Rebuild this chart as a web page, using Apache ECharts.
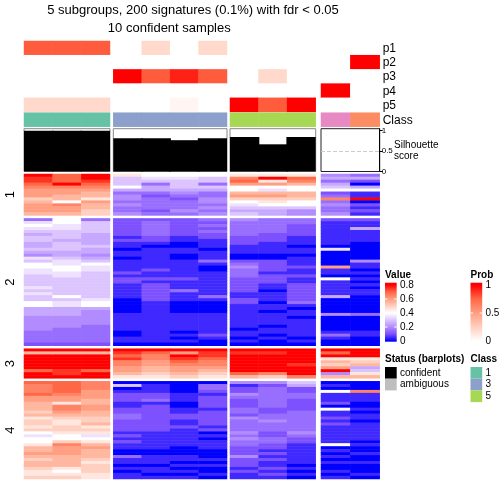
<!DOCTYPE html>
<html><head><meta charset="utf-8">
<script src="https://cdn.jsdelivr.net/npm/echarts@6/dist/echarts.min.js"></script>
<style>html,body{margin:0;padding:0;background:#fff}#c{width:504px;height:504px}</style>
</head><body><div id="c"></div>
<script>
// ---------------- data ----------------
const columnClass = [1,1,1, 3,3,3,3, 5,5,5, 4,2];
const groupSizes  = [3,4,3,2];
const probP1 = [0.78,0.78,0.78, 0,0.2,0,0.2, 0,0,0, 0,0];
const probP2 = [0,0,0, 0,0,0,0, 0,0,0, 0,1];
const probP3 = [0,0,0, 1,0.78,0.92,0.78, 0,0.2,0, 0,0];
const probP4 = [0,0,0, 0,0,0,0, 0,0,0, 1,0];
const probP5 = [0.2,0.2,0.2, 0,0,0.05,0, 1,0.78,1, 0,0];
const probNames = ['p1','p2','p3','p4','p5'];
const silhouette = [0.99,0.99,0.99, 0.81,0.81,0.76,0.81, 0.835,0.66,0.835, 0,0];
const rowSliceLabels = ['1','2','3','4'];
const valueTicks = [0.8,0.6,0.4,0.2,0];
const probTicks = [1,0.5,0];
const silTicks = [0,0.5,1];
const classLegend = [1,3,5];
const statusLegend = ['confident','ambiguous'];
// heatmap values: one string per column (12 columns), each char = value*20 ('0'..'G')
const slice1 = [
"GFFEDCCCABCCCB","EEEGDCCBB8DCCB","GGFEDCBB9CBBAA",
"96668534434334","87635532333323","87666543233343","86636533443434",
"9DEC88BCA87656","9G9C87BCA98655","9EDB88BBA88644",
"45356823D34334","35205811G02121"];
const slice2 = [
"3787656655654768877666676766885554444433332",
"8877666566655677887766666686775554444333332",
"3666655556554568776666666667885444443333332",
"2222221211011011112122111110000011111100110",
"2333332210111111121121222222111111111111110",
"2222221100110011111121113111000011111101010",
"3232322111011131001111111131000011111112100",
"4333332221110023433322222112211111111011010",
"3333322211110022221222110111011011110110100",
"3322221110110111211211222222310110111111010",
"2111111110700000C11081111150000040000013100",
"2115111100000041101010101100000030000011000"];
const slice3 = [
"GBGGGGGEGG","GBGGGGGFFG","GBGGGGGEGG",
"GFEFDDCCB9","GEDDCCBBA9","GCGFEDCCBA","GFFEDDCBA9",
"GFGGGGGGEB","GFGGGGGGDA","GGGGGFGGGD",
"GEG9BACG4B","GGG9AB569B"];
const slice4 = [
"EDDDECCBBBAB9AA9A87889BBCBABBA99A",
"EEEEDCC9DDCBA99AA988ADCCCBBBB989A",
"DDDCCCBBCCBBAAB9A9789BCBBBA9AAA99",
"060122211223322221212110031101011",
"011122312222222221111110011101101",
"000011100112211211111100011010101",
"033212222122222120101110001010010",
"412243222332433334343322242221211",
"423333333223343332233221212112121",
"652233222233333334322111111101010",
"010811120811212111111801010100101",
"000D11100101101111110100100100010"];

// ---------------- styles / layout ----------------
const FONT = '"Liberation Sans", Arial, Helvetica, sans-serif';
const heatColors = ['#0000ff','rgb(126,81,255)','rgb(178,139,255)','rgb(220,197,255)','#ffffff',
                    'rgb(255,207,191)','rgb(255,158,129)','rgb(255,104,70)','#ff0000'];
const probColors = ['#ffffff','rgb(255,207,191)','rgb(255,158,129)','rgb(255,104,70)','#ff0000'];
const classColors = {1:'#66C2A5',2:'#FC8D62',3:'#8DA0CB',4:'#E78AC3',5:'#A6D854'};
const groupLeft  = [24, 113.3, 230, 321];
const groupRight = [110, 227, 315.7, 379.7];
const blocks = [[41,71],[112.7,14],[128.7,42.8],[174,305]];

const CODE = '0123456789ABCDEFG';
const decode = s => s.split('').map(ch => CODE.indexOf(ch) / 20);
const slices = [slice1, slice2, slice3, slice4];
const sliceOffset = []; let acc = 0;
slices.forEach(s => { sliceOffset.push(acc); acc += s[0].length + 1; });
const totalRows = acc - 1;
const yCats = Array.from({length: totalRows}, (_, i) => String(i));
const probRows = [probP1, probP2, probP3, probP4, probP5];

const grids = [], xAxes = [], yAxes = [], series = [];
const heatIdx = [], probIdx = [], classIdx = [];
let colStart = 0;
groupSizes.forEach((n, g) => {
  const cols = Array.from({length: n}, (_, j) => colStart + j);
  const last = g === groupSizes.length - 1;
  const base = grids.length;
  const gw = groupRight[g] - groupLeft[g];
  blocks.forEach(([top, h], k) => {
    grids.push({left: groupLeft[g], top: top, width: gw, height: h,
      show: k === 2, borderColor: last ? '#222' : '#888', borderWidth: 1,
      backgroundColor: 'transparent', containLabel: false, outerBoundsMode: 'none'});
    xAxes.push({type: 'category', gridIndex: base + k, data: cols.map(String), show: false});
  });
  yAxes.push({type: 'category', gridIndex: base, data: probNames, inverse: true, show: false});
  yAxes.push({type: 'category', gridIndex: base + 1, data: ['Class'], show: false});
  yAxes.push({type: 'value', gridIndex: base + 2, min: 0, max: 1.039, show: last, position: 'right',
    splitLine: {show: false},
    axisLine: {show: true, lineStyle: {color: '#000', width: 1}},
    axisTick: {show: true, length: 3, customValues: silTicks, lineStyle: {color: '#000'}},
    axisLabel: {show: true, fontSize: 8, color: '#000', margin: 2, fontFamily: FONT,
      customValues: silTicks, formatter: v => (silTicks.indexOf(v) >= 0 ? String(v) : '')}});
  yAxes.push({type: 'category', gridIndex: base + 3, data: yCats, inverse: true, show: false});

  // prob annotation
  const pd = [];
  probRows.forEach((arr, pi) => cols.forEach((c, j) => pd.push([j, pi, arr[c]])));
  probIdx.push(series.length);
  series.push({type: 'heatmap', xAxisIndex: base, yAxisIndex: base, data: pd, progressive: 0,
    animation: false, emphasis: {disabled: true}, itemStyle: {borderWidth: 0}});
  // class annotation
  classIdx.push(series.length);
  series.push({type: 'heatmap', xAxisIndex: base + 1, yAxisIndex: base + 1,
    data: cols.map((c, j) => [j, 0, columnClass[c]]), progressive: 0, animation: false,
    emphasis: {disabled: true}});
  // silhouette bars (slightly wider than the band so neighbours overlap; clipped to the grid)
  const bar = {type: 'bar', xAxisIndex: base + 2, yAxisIndex: base + 2,
    data: cols.map(c => silhouette[c]), barWidth: gw / n + 1.5, barGap: '-100%', clip: true,
    itemStyle: {color: '#000'}, animation: false, silent: true};
  if (last) bar.markLine = {symbol: 'none', silent: true, label: {show: false},
    lineStyle: {type: 'dashed', color: '#cccccc', width: 1}, data: [{yAxis: 0.5}]};
  series.push(bar);
  // main heatmap
  const hd = [];
  slices.forEach((sl, s) => cols.forEach((c, j) => {
    decode(sl[c]).forEach((v, r) => hd.push([j, sliceOffset[s] + r, v]));
  }));
  heatIdx.push(series.length);
  series.push({type: 'heatmap', xAxisIndex: base + 3, yAxisIndex: base + 3, data: hd,
    progressive: 0, animation: false, emphasis: {disabled: true}});
  colStart += n;
});

// ---------------- graphics (titles, labels, legends) ----------------
const txt = (text, x, y, o = {}) => ({type: 'text', x, y, rotation: o.rot || 0, silent: true,
  style: {text, fill: '#000', font: (o.bold ? 'bold ' : '') + (o.size || 12) + 'px ' + FONT,
    align: o.align || 'left', verticalAlign: 'middle', textAlign: o.align || 'left', textVerticalAlign: 'middle'}});
const G = [];
G.push(txt('5 subgroups, 200 signatures (0.1%) with fdr < 0.05', 193, 10, {size: 13, align: 'center'}));
G.push(txt('10 confident samples', 169.3, 28.5, {size: 13, align: 'center'}));
[49, 62.7, 76.7, 91.5, 106].forEach((y, i) => G.push(txt(probNames[i], 382.7, y)));
G.push(txt('Class', 382.7, 120.3));
G.push(txt('Silhouette', 394, 145, {size: 10}));
G.push(txt('score', 394, 156, {size: 10}));
// slice titles (rotated)
const hTop = blocks[3][0], hH = blocks[3][1], rowH = hH / totalRows;
slices.forEach((sl, s) => {
  const yc = hTop + (sliceOffset[s] + sl[0].length / 2) * rowH;
  G.push(txt(rowSliceLabels[s], 10.5, yc, {size: 13, align: 'center', rot: Math.PI / 2}));
});
// Value legend
const barTop = 282.7, barH = 59;
G.push(txt('Value', 385, 275, {bold: true, size: 10}));
const vy = v => 341 - v * 70;
const vStops = [{offset: 0, color: heatColors[8]}];
for (let i = 8; i >= 0; i--) vStops.push({offset: (vy(i * 0.1) - barTop) / barH, color: heatColors[i]});
vStops.push({offset: 1, color: heatColors[0]});
G.push({type: 'rect', shape: {x: 385, y: barTop, width: 11.7, height: barH}, silent: true,
  style: {fill: {type: 'linear', x: 0, y: 0, x2: 0, y2: 1, colorStops: vStops}}});
valueTicks.forEach(v => {
  G.push(txt(String(v), 400, vy(v) + 0.3, {size: 10}));
  if (v > 0 && v < 0.8) {
    G.push({type: 'line', silent: true, shape: {x1: 385, y1: vy(v), x2: 387.5, y2: vy(v)}, style: {stroke: '#fff', lineWidth: 1}});
    G.push({type: 'line', silent: true, shape: {x1: 394.2, y1: vy(v), x2: 396.7, y2: vy(v)}, style: {stroke: '#fff', lineWidth: 1}});
  }
});
// Prob legend
G.push(txt('Prob', 470.5, 275, {bold: true, size: 10}));
const py = v => 341 - v * 56;
const pStops = [{offset: 0, color: probColors[4]}];
for (let i = 4; i >= 0; i--) pStops.push({offset: (py(i * 0.25) - barTop) / barH, color: probColors[i]});
pStops.push({offset: 1, color: probColors[0]});
G.push({type: 'rect', shape: {x: 470.5, y: barTop, width: 11.7, height: barH}, silent: true,
  style: {fill: {type: 'linear', x: 0, y: 0, x2: 0, y2: 1, colorStops: pStops}}});
probTicks.forEach(v => {
  G.push(txt(String(v), 485.5, py(v) + 0.3, {size: 10}));
  if (v > 0 && v < 1) {
    G.push({type: 'line', silent: true, shape: {x1: 470.5, y1: py(v), x2: 473, y2: py(v)}, style: {stroke: '#fff', lineWidth: 1}});
    G.push({type: 'line', silent: true, shape: {x1: 479.7, y1: py(v), x2: 482.2, y2: py(v)}, style: {stroke: '#fff', lineWidth: 1}});
  }
});
// Status legend
G.push(txt('Status (barplots)', 385, 359, {bold: true, size: 10}));
['#000000', '#bebebe'].forEach((c, i) => {
  G.push({type: 'rect', silent: true, shape: {x: 385, y: 367 + i * 11.7, width: 11.7, height: 11.7}, style: {fill: c}});
  G.push(txt(statusLegend[i], 400, 372.8 + i * 11.7, {size: 10}));
});
// Class legend
G.push(txt('Class', 470.5, 359, {bold: true, size: 10}));
classLegend.forEach((k, i) => {
  G.push({type: 'rect', silent: true, shape: {x: 470.5, y: 367 + i * 11.7, width: 11.7, height: 11.7}, style: {fill: classColors[k]}});
  G.push(txt(String(k), 485.5, 372.8 + i * 11.7, {size: 10}));
});

const option = {
  animation: false,
  backgroundColor: '#ffffff',
  grid: grids, xAxis: xAxes, yAxis: yAxes, series: series,
  visualMap: [
    {type: 'continuous', show: false, min: 0, max: 0.8, seriesIndex: heatIdx, inRange: {color: heatColors}},
    {type: 'continuous', show: false, min: 0, max: 1, seriesIndex: probIdx, inRange: {color: probColors}},
    {type: 'piecewise', show: false, seriesIndex: classIdx,
      pieces: Object.keys(classColors).map(k => ({value: Number(k), color: classColors[k]}))}
  ],
  graphic: {elements: G}
};
const chart = echarts.init(document.getElementById('c'), null, {renderer: 'canvas'});
chart.setOption(option);
</script></body></html>
